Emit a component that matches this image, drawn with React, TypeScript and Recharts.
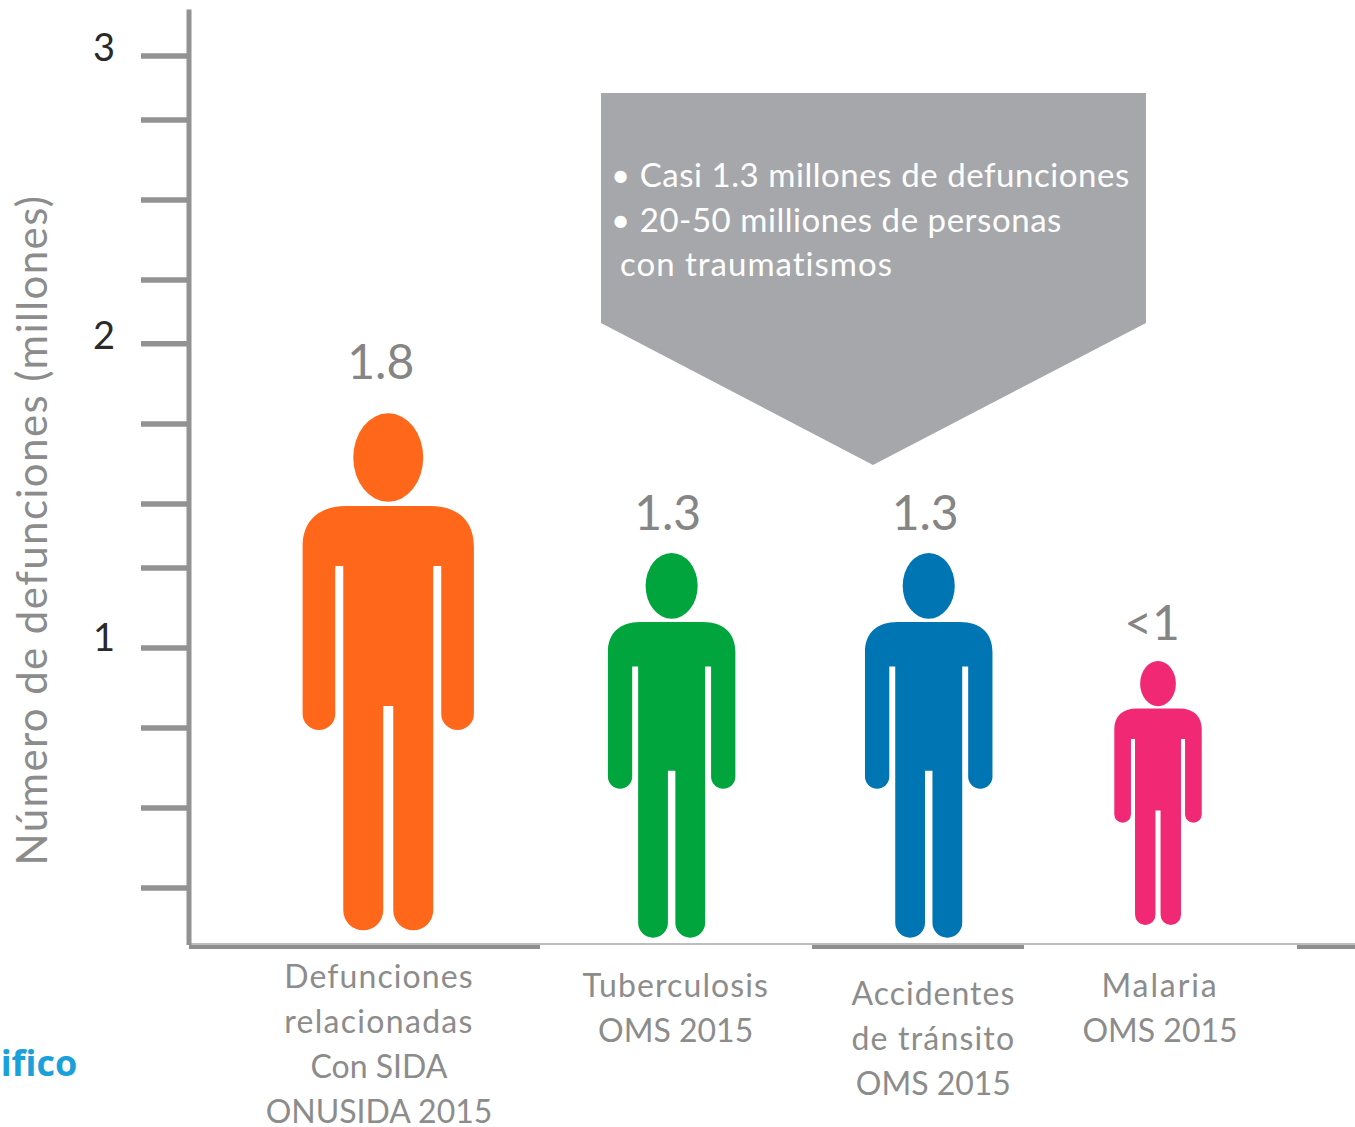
import React from "react";
import { ComposedChart, Bar, XAxis, YAxis, Customized } from "recharts";

const categorias = ["Defunciones relacionadas", "Tuberculosis", "Accidentes", "Malaria"];
const topes = [1.79, 1.32, 1.32, 0.956];
const bases = [0.049, 0.024, 0.024, 0.067];
const etiquetas = ["1.8", "1.3", "1.3", "<1"];
const colores = ["#FF671B", "#00A53D", "#0075B4", "#F12874"];
const lineasEje = [
  ["Defunciones", "relacionadas", "Con SIDA", "ONUSIDA 2015"],
  ["Tuberculosis", "OMS 2015"],
  ["Accidentes", "de tránsito", "OMS 2015"],
  ["Malaria", "OMS 2015"],
];
const marcasY = [2.993, 2.778, 2.508, 2.239, 2.024, 1.754, 1.485, 1.269, 1, 0.731, 0.461, 0.192];
const rotulosY: Record<string, string> = { "2.993": "3", "2.024": "2", "1": "1" };

const datos = categorias.map((categoria, i) => ({
  categoria,
  rango: [bases[i], topes[i]],
  indice: i,
}));

const FONT = "Lato, sans-serif";
const GRIS = "#8C8C8C";
const desplazaPersona = [0.6, 27.3, 27.7, 0.3];
const desplazaEtiqueta = [-7.5, -4, -3.5, -6];
const alturaEtiqueta = [34, 23, 23, 21];
const desplazaEje = [-9, 31, 32, 2];
const baseEje = [988, 997, 1005, 997];
const espaciadoEje = [
  [1.1, 1.3, 0, 0],
  [1.1, 0],
  [1, 1.2, 0],
  [1.9, 0],
];

const CUERPO =
  "M-42 92.7H42C70 92.7 85.65 108 85.65 133V300.7A16.3 16 0 0 1 53 300.7V152.7H45V497A20 20 0 0 1 5 497V292.7H-5V497A20 20 0 0 1-45 497V152.7H-53V300.7A16.3 16 0 0 1-85.65 300.7V133C-85.65 108-70 92.7-42 92.7Z";

function Persona(props: any) {
  const { x, y, width, height, index } = props;
  const cx = x + width / 2 + desplazaPersona[index];
  const s = height / 517.2;
  return (
    <g>
      <g transform={`translate(${cx} ${y}) scale(${s})`} fill={colores[index]}>
        <ellipse cx={0} cy={44.2} rx={35} ry={44.2} />
        <path d={CUERPO} />
      </g>
      <text
        x={cx + desplazaEtiqueta[index]}
        y={y - alturaEtiqueta[index]}
        textAnchor="middle"
        fontFamily={FONT}
        fontSize={48}
        fill="#858585"
      >
        {etiquetas[index]}
      </text>
    </g>
  );
}

function TickY(props: any) {
  const { y, payload } = props;
  const rotulo = rotulosY[String(payload.value)];
  return (
    <g>
      <line x1={141} x2={187} y1={y} y2={y} stroke="#929292" strokeWidth={5.5} />
      {rotulo ? (
        <text x={104} y={y + (rotulo === "1" ? 3 : 5)} textAnchor="middle" fontFamily={FONT} fontSize={38} fill="#2A2A2A">
          {rotulo}
        </text>
      ) : null}
    </g>
  );
}

function TickX(props: any) {
  const { x, index } = props;
  return (
    <text textAnchor="middle" fontFamily={FONT} fontSize={32} fill={GRIS}>
      {lineasEje[index].map((l: string, i: number) => (
        <tspan key={i} x={x + desplazaEje[index]} y={baseEje[index] + i * 45} letterSpacing={espaciadoEje[index][i]}>
          {l}
        </tspan>
      ))}
    </text>
  );
}

function Decoracion() {
  const tramos = [
    [189, 540],
    [812, 1024],
    [1297, 1355],
  ];
  return (
    <g>
      <rect x={189} y={943} width={1166} height={2} fill="#BDBDBD" />
      {tramos.map(([a, b]) => (
        <rect key={a} x={a} y={945} width={b - a} height={4} fill="#8E8E8E" />
      ))}
      <polygon points="601,93 1146,93 1146,323 873,465 601,323" fill="#A6A7AB" />
      <g fontFamily={FONT} fontSize={33} fill="#FFFFFF" letterSpacing={0.55}>
        <text x={611} y={187}>• Casi 1.3 millones de defunciones</text>
        <text x={611} y={232}>• 20-50 milliones de personas</text>
        <text x={620} y={276} letterSpacing={1}>con traumatismos</text>
      </g>
      <text
        transform="translate(47 530) rotate(-90)"
        textAnchor="middle"
        fontFamily={FONT}
        fontSize={42}
        letterSpacing={1.4}
        fill={GRIS}
      >
        Número de defunciones (millones)
      </text>
      <text x={-15} y={1076} fontFamily="'Open Sans', sans-serif" fontWeight={700} fontSize={36} fill="#1AA0DB">
        tifico
      </text>
    </g>
  );
}

export default function App() {
  return (
    <div style={{ position: "absolute", left: 0, top: 0, width: 1355, height: 1127, overflow: "hidden" }}>
      <ComposedChart
        width={1355}
        height={1127}
        data={datos}
        margin={{ top: 9.45, right: 0, bottom: 0, left: 0 }}
      >
        <Customized component={Decoracion} />
        <XAxis
          dataKey="categoria"
          type="category"
          height={182}
          axisLine={false}
          tickLine={false}
          interval={0}
          padding={{ left: 70.65, right: 68.6 }}
          tick={<TickX />}
        />
        <YAxis
          type="number"
          width={189}
          domain={[0, 3.15]}
          ticks={marcasY}
          interval={0}
          tickLine={false}
          axisLine={{ stroke: "#929292", strokeWidth: 5 }}
          tick={<TickY />}
        />
        <Bar dataKey="rango" barSize={20} isAnimationActive={false} shape={<Persona />} />
      </ComposedChart>
    </div>
  );
}
